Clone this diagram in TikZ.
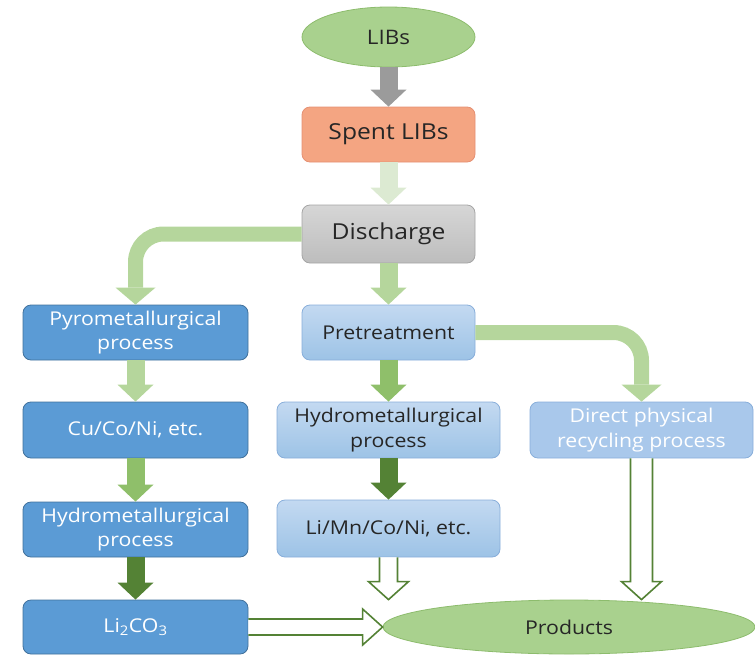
\documentclass[tikz,border=0pt]{standalone}
\usepackage{fontspec}
\setmainfont{Open Sans}[FakeStretch=1.12]
\usetikzlibrary{arrows.meta,shapes.geometric,calc}
\definecolor{bdark}{HTML}{5B9BD5}
\definecolor{bdarkline}{HTML}{41719C}
\definecolor{bpaletop}{HTML}{C3D9F1}
\definecolor{bpalebot}{HTML}{9DC3E6}
\definecolor{bpaleline}{HTML}{88AEDA}
\definecolor{bdirect}{HTML}{A9C8EB}
\definecolor{salmon}{HTML}{F4A582}
\definecolor{salmonline}{HTML}{E59073}
\definecolor{greytop}{HTML}{D6D6D6}
\definecolor{greybot}{HTML}{BDBDBD}
\definecolor{greyline}{HTML}{A5A5A5}
\definecolor{egreen}{HTML}{A9D18E}
\definecolor{egreenline}{HTML}{8DBC6D}
\definecolor{agrey}{HTML}{9B9B9B}
\definecolor{apale}{HTML}{DCEAD2}
\definecolor{alight}{HTML}{B5D69C}
\definecolor{amid}{HTML}{8FBF6A}
\definecolor{adark}{HTML}{548235}
\definecolor{txt}{HTML}{262626}
\begin{document}
\begin{tikzpicture}[x=1pt,y=1pt,
  box/.style={rectangle, rounded corners=8pt, minimum height=55pt, align=center,
    font=\fontsize{19}{24.5}\selectfont, inner sep=2pt, line width=0.8pt},
  darkbox/.style={box, fill=bdark, draw=bdarkline, text=white, minimum width=225pt},
  palebox/.style={box, top color=bpaletop, bottom color=bpalebot, draw=bpaleline, text=txt, minimum width=223pt},
  topbox/.style={box, minimum width=173pt, font=\fontsize{22}{26}\selectfont, text=txt},
  gellipse/.style={ellipse, fill=egreen, draw=egreenline, line width=0.8pt, text=txt, inner sep=0pt},
  fat/.style={line width=18pt, -{Triangle[width=36pt,length=17pt,line width=0pt]}},
  bent/.style={line width=15pt, rounded corners=28pt, -{Triangle[width=40pt,length=17pt,line width=0pt]}},
  hollow/.style={draw=adark, line width=1.6pt, fill=white, line join=miter},
]
\useasboundingbox (0,0) rectangle (755,-656);
% nodes
\node[gellipse, minimum width=173pt, minimum height=60pt, font=\fontsize{20}{24}\selectfont] (libs) at (388.5,-37) {LIBs};
\node[topbox, fill=salmon, draw=salmonline] (spent) at (388.5,-134.5) {Spent LIBs};
\node[topbox, top color=greytop, bottom color=greybot, draw=greyline, minimum height=58pt] (dis) at (388.5,-234) {Discharge};
\node[darkbox] (pyro) at (135.5,-332.5) {Pyrometallurgical\\process};
\node[palebox, minimum width=173pt] (pre) at (388.5,-332.5) {Pretreatment};
\node[darkbox, minimum height=56pt] (cu) at (135.5,-430) {Cu/Co/Ni, etc.};
\node[palebox, minimum height=56pt] (hydm) at (388.5,-430) {Hydrometallurgical\\process};
\node[box, fill=bdirect, draw=bpaleline, text=white, minimum width=223pt, minimum height=56pt] (dir) at (641.5,-430) {Direct physical\\recycling process};
\node[darkbox] (hydl) at (135.5,-529.5) {Hydrometallurgical\\process};
\node[palebox, minimum height=57pt] (limn) at (388.5,-528.5) {Li/Mn/Co/Ni, etc.};
\node[darkbox, minimum height=54pt] (li2) at (135.5,-627) {Li\textsubscript{2}CO\textsubscript{3}};
\node[gellipse, minimum width=372pt, minimum height=54pt, font=\fontsize{19}{23}\selectfont] (prod) at (569,-627) {Products};
% filled arrows
\draw[fat, agrey] (libs.south) -- (spent.north);
\draw[fat, apale] (spent.south) -- (dis.north);
\draw[fat, alight] (dis.south) -- (pre.north);
\draw[bent, alight] (dis.west) -| (pyro.north);
\draw[bent, alight] (pre.east) -| (dir.north);
\draw[fat, alight] (pyro.south) -- (cu.north);
\draw[fat, amid] (cu.south) -- (hydl.north);
\draw[fat, adark] (hydl.south) -- (li2.north);
\draw[fat, amid] (pre.south) -- (hydm.north);
\draw[fat, adark] (hydm.south) -- (limn.north);
% hollow arrows
\draw[hollow] let \p1=(li2.east), \p2=(prod.west) in
  (\x1,\y1+8pt) -- (\x2-20pt,\y1+8pt) -- (\x2-20pt,\y1+18pt) -- (\x2,\y1) --
  (\x2-20pt,\y1-18pt) -- (\x2-20pt,\y1-8pt) -- (\x1,\y1-8pt);
\draw[hollow] let \p1=(limn.south), \p2=(prod.north) in
  (\x1-9pt,\y1) -- (\x1-9pt,\y2+18pt) -- (\x1-20pt,\y2+18pt) -- (\x1,\y2) --
  (\x1+20pt,\y2+18pt) -- (\x1+9pt,\y2+18pt) -- (\x1+9pt,\y1);
\draw[hollow] let \p1=(dir.south), \p2=(prod.north) in
  (\x1-11pt,\y1) -- (\x1-11pt,\y2+18pt) -- (\x1-20pt,\y2+18pt) -- (\x1,\y2) --
  (\x1+20pt,\y2+18pt) -- (\x1+11pt,\y2+18pt) -- (\x1+11pt,\y1);
\end{tikzpicture}
\end{document}
